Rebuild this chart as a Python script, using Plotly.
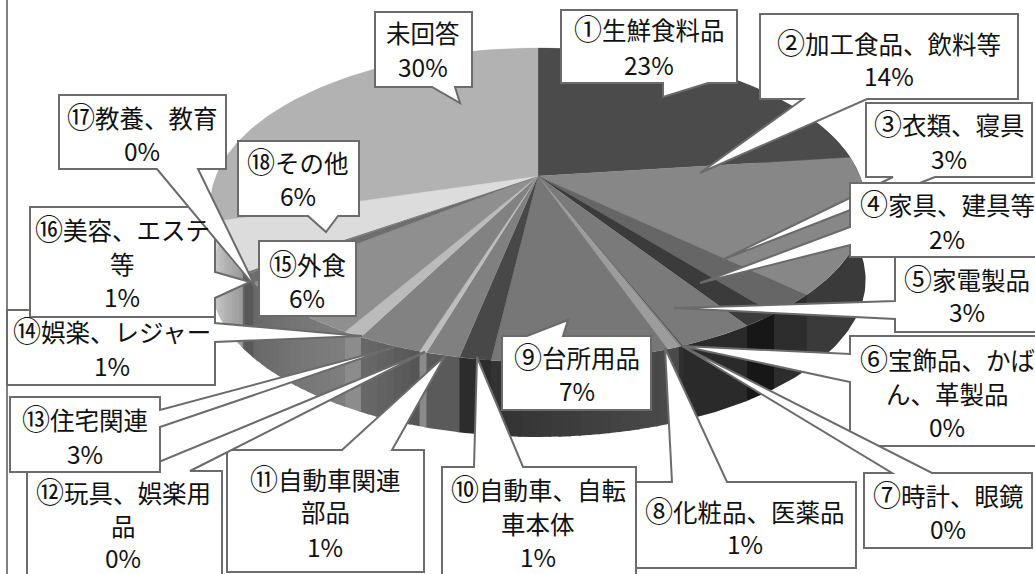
import math
import plotly.graph_objects as go

# ---------- data ----------
categories = ["①生鮮食料品", "②加工食品、飲料等", "③衣類、寝具", "④家具、建具等", "⑤家電製品",
              "⑥宝飾品、かば\nん、革製品", "⑦時計、眼鏡", "⑧化粧品、医薬品", "⑨台所用品",
              "⑩自動車、自転\n車本体", "⑪自動車関連\n部品", "⑫玩具、娯楽用\n品", "⑬住宅関連",
              "⑭娯楽、レジャー", "⑮外食", "⑯美容、エステ\n等", "⑰教養、教育", "⑱その他", "未回答"]
percent_labels = ["23%", "14%", "3%", "2%", "3%", "0%", "0%", "1%", "7%", "1%", "1%", "0%", "3%",
                  "1%", "6%", "1%", "0%", "6%", "30%"]
values = [23.0, 14.0, 2.2, 1.55, 3.15, 0.1, 0.1, 0.5, 7.3, 1.3, 1.4, 0.3, 2.7, 0.8, 5.9, 0.8, 0.2,
          5.1, 29.6]

# ---------- styles ----------
top_colors = ["#4b4b4b", "#878787", "#666666", "#3b3b3b", "#7a7a7a", "#5a5a5a", "#8a8a8a", "#9c9c9c",
              "#777777", "#484848", "#808080", "#bdbdbd", "#828282", "#bbbbbb", "#8f8f8f", "#6e6e6e",
              "#777777", "#dcdcdc", "#b2b2b2"]
side_colors = [("#3a3a3a", "#3a3a3a"), ("#3a3a3a", "#3a3a3a"), ("#2d2d2d", "#2d2d2d"), ("#171717", "#171717"),
               ("#2a2a2a", "#2a2a2a"), ("#303030", "#303030"), ("#303030", "#303030"), ("#4a4a4a", "#4a4a4a"),
               ("#4a4a4a", "#323232"), ("#2c2c2c", "#2c2c2c"), ("#5a5a5a", "#5a5a5a"), ("#8a8a8a", "#8a8a8a"),
               ("#555555", "#6a6a6a"), ("#8c8c8c", "#8c8c8c"), ("#7f7f7f", "#686868"), ("#585858", "#585858"),
               ("#666666", "#666666"), ("#9a9a9a", "#d5d5d5"), ("#d5d5d5", "#d5d5d5")]

BORDER = "#6b6b6b"
FONT = "Noto Sans CJK JP"
FS = 24.5
CIRCLE_FS = 28

# perspective model of the pie disc
CX, CY = 538.0, 176.0
A, B, C = 151.6, 0.1847, 322.0
DEPTH = 75.0


def project(t, dz=0.0):
    u, v = math.sin(t), -math.cos(t)
    w = 1 - B * v
    return CX + C * u / w, CY + A * v / w + dz


def hex_mix(c1, c2, f):
    a = [int(c1[i:i + 2], 16) for i in (1, 3, 5)]
    b = [int(c2[i:i + 2], 16) for i in (1, 3, 5)]
    return "#%02x%02x%02x" % tuple(round(p + (q - p) * f) for p, q in zip(a, b))


total = sum(values)
fig = go.Figure()
bounds = [0.0]
for val in values:
    bounds.append(bounds[-1] + val / total * 2 * math.pi)


def add_poly(xs, ys, col, lw=0.0):
    fig.add_trace(go.Scatter(x=xs, y=ys, mode="lines", fill="toself", fillcolor=col,
                             line=dict(color=col, width=lw), hoverinfo="skip", showlegend=False))


# side wall: each strip runs a little past its end so that the next one covers the seam
OVERLAP = math.radians(0.4)
for i in range(len(values)):
    t0, t1 = bounds[i], bounds[i + 1]
    same = side_colors[i][0] == side_colors[i][1]
    n = 1 if same else max(1, math.ceil((t1 - t0) / math.radians(1.5)))
    for k in range(n):
        a0 = t0 + (t1 - t0) * k / n
        a1 = t0 + (t1 - t0) * (k + 1) / n + OVERLAP
        m = max(4, math.ceil((a1 - a0) / math.radians(1)))
        ts = [a0 + (a1 - a0) * j / m for j in range(m + 1)]
        pts = [project(t) for t in ts] + [project(t, DEPTH) for t in reversed(ts)]
        add_poly([p[0] for p in pts], [p[1] for p in pts],
                 hex_mix(side_colors[i][0], side_colors[i][1], (k + 0.5) / n))

# top face
for i in range(len(values)):
    t0, t1 = bounds[i], bounds[i + 1]
    n = max(2, math.ceil((t1 - t0) / math.radians(1.5)))
    pts = [(CX, CY)] + [project(t0 + (t1 - t0) * k / n) for k in range(n + 1)] + [(CX, CY)]
    add_poly([p[0] for p in pts], [p[1] for p in pts], top_colors[i], lw=0.3)

# ---------- callouts (page geometry, drawn in order) ----------
callouts = [
    [(561, 10), (737, 10), (737, 83), (708, 83), (663, 97), (663, 83), (561, 83)],
    [(760, 14), (1018, 14), (1018, 99), (867, 99), (700, 173), (803, 99), (760, 99)],
    [(866, 103), (1032, 103), (1032, 177), (935, 177), (722, 260), (893, 177), (866, 177)],
    [(850, 183), (1040, 183), (1040, 257), (850, 257), (850, 245), (700, 283), (850, 227)],
    [(895, 257), (1040, 257), (1040, 332), (895, 332), (895, 319), (674, 308), (895, 301)],
    [(850, 336), (1040, 336), (1040, 446), (850, 446), (850, 382), (682, 346), (850, 354)],
    [(864, 473), (892, 473), (682, 346), (932, 473), (1032, 473), (1032, 548), (864, 548)],
    [(634, 482), (672, 482), (665, 348), (727, 482), (856, 482), (856, 568), (634, 568)],
    [(502, 336), (527, 336), (568, 320), (563, 336), (651, 336), (651, 410), (502, 410)],
    [(442, 467), (474, 467), (477, 357), (523, 467), (636, 467), (636, 590), (442, 590)],
    [(227, 450), (342, 450), (445, 356), (392, 450), (424, 450), (424, 572), (227, 572)],
    [(27, 471), (137, 471), (425, 352), (190, 471), (222, 471), (222, 590), (27, 590)],
    [(10, 397), (160, 397), (160, 410), (395, 347), (160, 427), (160, 472), (10, 472)],
    [(7, 310), (215, 310), (215, 323), (362, 336), (215, 342), (215, 385), (7, 385)],
    [(259, 241), (356, 241), (356, 316), (259, 316)],
    [(30, 207), (215, 207), (215, 272), (250, 282), (215, 298), (215, 317), (30, 317)],
    [(59, 95), (226, 95), (226, 169), (198, 169), (256, 288), (157, 169), (59, 169)],
    [(238, 141), (359, 141), (359, 216), (338, 216), (326, 232), (308, 216), (238, 216)],
    [(375, 12), (472, 12), (472, 87), (455, 87), (460, 103), (432, 87), (375, 87)],
]
text_x = [649, 889, 949, 947, 967, 947, 948, 745, 577, 538, 325, 123, 85, 112, 307, 122, 142, 298, 423]
text_y = [[28, 64], [41.5, 75], [123, 158], [203, 238], [278, 311], [358, 393, 426], [494, 528], [510, 543],
          [356, 390], [488, 523, 556], [478, 511, 546], [491, 525, 557.5], [418, 453], [330, 365], [263, 297],
          [228, 263, 296], [116, 150], [161, 195], [32, 66]]

shapes = [dict(type="line", xref="x", yref="y", x0=7, x1=7, y0=0, y1=574,
               line=dict(color="#808080", width=2))]
for poly in callouts:
    path = "M " + " L ".join(f"{x} {y}" for x, y in poly) + " Z"
    shapes.append(dict(type="path", xref="x", yref="y", path=path, fillcolor="white",
                       line=dict(color=BORDER, width=2)))


def styled(line):
    # the circled number is set larger, as in the reference
    if "①" <= line[0] <= "⑳":
        return f'<span style="font-size:{CIRCLE_FS}px">{line[0]}</span>{line[1:]}'
    return line


annotations = []
for i, name in enumerate(categories):
    lines = name.split("\n") + [percent_labels[i]]
    for line, y in zip(lines, text_y[i]):
        annotations.append(dict(x=text_x[i], y=y, xref="x", yref="y", text=styled(line), showarrow=False,
                                xanchor="center", yanchor="middle",
                                font=dict(family=FONT, size=FS, color="#111111")))

fig.update_layout(
    width=1035, height=574, margin=dict(l=0, r=0, t=0, b=0),
    paper_bgcolor="white", plot_bgcolor="white", showlegend=False,
    xaxis=dict(range=[0, 1035], visible=False, fixedrange=True),
    yaxis=dict(range=[574, 0], visible=False, fixedrange=True),
    shapes=shapes, annotations=annotations,
)
fig.write_html("out.html", config=dict(displayModeBar=False),
               post_script="document.body.style.margin='0';document.body.style.overflow='hidden';")
